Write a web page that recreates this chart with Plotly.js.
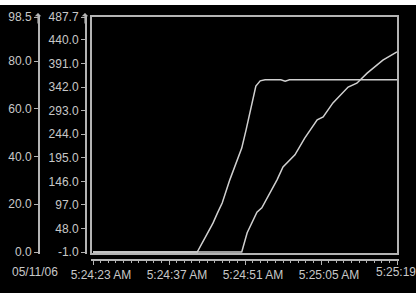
<!DOCTYPE html>
<html><head><meta charset="utf-8">
<script src="https://cdn.plot.ly/plotly-3.0.1.min.js"></script>
<style>html,body{margin:0;padding:0;background:#000;}#c{width:416px;height:293px;}</style>
</head><body><div id="c"></div>
<script>
// time in seconds after 05:24:00 AM on 05/11/06
var timeA = [23, 30, 36, 42.2, 43.6, 45.1, 46.0, 46.8, 48.2, 49.3, 50.4, 51.2, 51.9, 52.5, 53.0, 53.8, 54.7, 57.6, 58.4, 59.2, 65, 72, 79];
var valueA = [-1, -1, -1, -1, 28, 59, 82, 101, 149, 184, 215, 253, 288, 321, 344, 355, 357, 357, 354, 357, 357, 357, 357];
var timeB = [23, 32, 42, 50.4, 51.4, 52.3, 53.2, 54.1, 55.6, 56.9, 58.0, 60.2, 62.0, 64.3, 65.4, 67.2, 70.0, 71.6, 73.5, 76.4, 79.0];
var valueB = [-1, -1, -1, -1, 39, 61, 82, 91, 122, 149, 176, 201, 236, 274, 280, 309, 342, 350, 371, 398, 415];
var xTickVals = [23, 37, 51, 65, 79];
var xTickText = ["5:24:23 AM", "5:24:37 AM", "5:24:51 AM", "5:25:05 AM", ""];
var lastTickLabel = "5:25:19";
var dateLabel = "05/11/06";
var rightTickVals = [-1, 48, 97, 146, 195, 244, 293, 342, 391, 440, 487.7];
var leftTickVals = [0, 20, 40, 60, 80, 98.5];

var W = 416, H = 293;
var px = function (x) { return x / W; };
var py = function (y) { return (H - y) / H; };
var lineCol = '#b4b4b4', txtCol = '#c8c8c8', dataCol = '#d0d0d0';
var fnt = {family: 'Liberation Sans, Arial, sans-serif', size: 12, color: txtCol};

var traces = [
  {x: timeA, y: valueA, type: 'scatter', mode: 'lines', line: {color: dataCol, width: 1.5}, hoverinfo: 'skip', yaxis: 'y'},
  {x: timeB, y: valueB, type: 'scatter', mode: 'lines', line: {color: dataCol, width: 1.5}, hoverinfo: 'skip', yaxis: 'y'},
  {x: [23], y: [0], type: 'scatter', mode: 'markers', marker: {opacity: 0}, hoverinfo: 'skip', yaxis: 'y2'}
];

// plot frame 91..398 x, 16..254 y
var pxPerR = 235 / 488.7;
var pxPerL = 235 / 98.5;
var layout = {
  width: W, height: H,
  margin: {l: 0, r: 0, t: 0, b: 0},
  paper_bgcolor: '#000', plot_bgcolor: '#000',
  showlegend: false,
  xaxis: {
    domain: [px(91), px(399)],
    range: [23 - 2 / (304 / 56), 79 + 2 / (304 / 56)],
    anchor: 'free', position: py(259),
    showline: true, linecolor: lineCol, linewidth: 1.5,
    showgrid: false, zeroline: false,
    tickmode: 'array', tickvals: xTickVals, ticktext: xTickText,
    ticks: 'outside', ticklen: 4, tickcolor: lineCol, tickwidth: 1,
    ticklabelshift: 8,
    tickfont: fnt,
    minor: {tick0: 23, dtick: 1.4, ticks: 'outside', ticklen: 2, tickcolor: lineCol, showgrid: false}
  },
  yaxis: {
    domain: [py(254), py(16)],
    range: [-1 - 2 / pxPerR, 487.7 + 1 / pxPerR],
    anchor: 'free', position: px(85), side: 'left',
    showline: true, linecolor: lineCol, linewidth: 1.5,
    showgrid: false, zeroline: false,
    tickmode: 'array', tickvals: rightTickVals,
    ticktext: rightTickVals.map(function (v) { return v.toFixed(1); }),
    ticks: 'outside', ticklen: 4, tickcolor: lineCol,
    tickfont: fnt
  },
  yaxis2: {
    domain: [py(254), py(16)],
    overlaying: 'y',
    range: [0 - 2 / pxPerL, 98.5 + 1 / pxPerL],
    anchor: 'free', position: px(38), side: 'left',
    showline: true, linecolor: lineCol, linewidth: 1.5,
    showgrid: false, zeroline: false,
    tickmode: 'array', tickvals: leftTickVals,
    ticktext: leftTickVals.map(function (v) { return v.toFixed(1); }),
    ticks: 'outside', ticklen: 4, tickcolor: lineCol,
    tickfont: fnt
  },
  shapes: [
    {type: 'rect', xref: 'paper', yref: 'paper', x0: px(91), x1: px(398), y0: py(254), y1: py(16),
     line: {color: lineCol, width: 2}, layer: 'above'},
    {type: 'rect', xref: 'paper', yref: 'paper', x0: 0, x1: 1, y0: py(5), y1: 1,
     fillcolor: '#ffffff', line: {width: 0}, layer: 'above'}
  ],
  annotations: [
    {xref: 'paper', yref: 'paper', x: px(60), y: py(272), text: dateLabel, showarrow: false,
     xanchor: 'right', yanchor: 'middle', font: fnt},
    {xref: 'paper', yref: 'paper', x: px(416), y: py(272), text: lastTickLabel, showarrow: false,
     xanchor: 'right', yanchor: 'middle', font: fnt, xshift: 2},
    {xref: 'paper', yref: 'paper', x: px(38), y: py(13), ax: 0, ay: 12, text: '', showarrow: true,
     arrowhead: 1, arrowsize: 0.9, arrowwidth: 1.2, arrowcolor: lineCol},
    {xref: 'paper', yref: 'paper', x: px(85), y: py(13), ax: 0, ay: 12, text: '', showarrow: true,
     arrowhead: 1, arrowsize: 0.9, arrowwidth: 1.2, arrowcolor: lineCol}
  ]
};
Plotly.newPlot('c', traces, layout, {staticPlot: true, displayModeBar: false});
</script></body></html>
